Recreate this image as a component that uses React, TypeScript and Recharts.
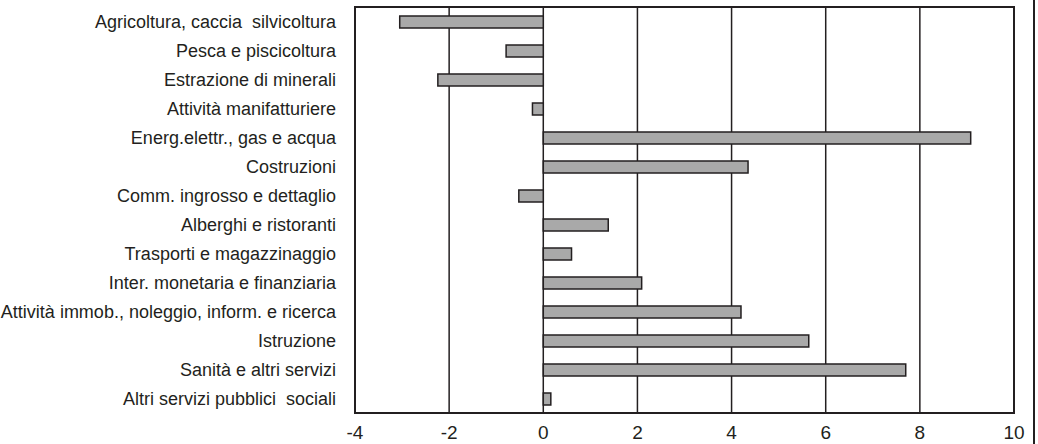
import React from 'react';
import { BarChart, Bar, XAxis, YAxis, CartesianGrid, ReferenceArea } from 'recharts';

const sectors = [
  'Agricoltura, caccia\u00a0 silvicoltura',
  'Pesca e piscicoltura',
  'Estrazione di minerali',
  'Attività manifatturiere',
  'Energ.elettr., gas e acqua',
  'Costruzioni',
  'Comm. ingrosso e dettaglio',
  'Alberghi e ristoranti',
  'Trasporti e magazzinaggio',
  'Inter. monetaria e finanziaria',
  'Attività immob., noleggio, inform. e ricerca',
  'Istruzione',
  'Sanità e altri servizi',
  'Altri servizi pubblici\u00a0 sociali',
];

const values = [-3.05, -0.79, -2.24, -0.23, 9.08, 4.35, -0.52, 1.38, 0.6, 2.09, 4.2, 5.64, 7.7, 0.16];

const xTicks = [-4, -2, 0, 2, 4, 6, 8, 10];

const data = sectors.map((name, i) => ({ name, value: values[i] }));

const FONT = '"Liberation Sans", Arial, sans-serif';
const INK = '#231f20';

const App: React.FC = () => {
  return (
    <div style={{ position: 'absolute', left: 0, top: 0, width: 1038, height: 444, background: '#fff' }}>
      <BarChart
        width={1038}
        height={444}
        data={data}
        layout="vertical"
        margin={{ top: 7, right: 24, bottom: 0, left: 0 }}
        barCategoryGap={0}
      >
        <CartesianGrid horizontal={false} stroke={INK} strokeWidth={1.5} />
        <XAxis
          type="number"
          domain={[-4, 10]}
          ticks={xTicks}
          interval={0}
          axisLine={false}
          tickLine={false}
          tickSize={0}
          tickMargin={13}
          height={31}
          tick={{ fill: INK, fontSize: 19, fontFamily: FONT }}
        />
        <YAxis
          type="category"
          dataKey="name"
          width={355}
          axisLine={false}
          tickLine={false}
          tickSize={0}
          tickMargin={19}
          interval={0}
          tick={{ fill: INK, fontSize: 18, fontFamily: FONT }}
        />
        <ReferenceArea x1={-4} x2={10} fill="none" stroke={INK} strokeWidth={2} ifOverflow="visible" />
        <Bar dataKey="value" fill="#a9a9a9" stroke={INK} strokeWidth={1.5} barSize={12} isAnimationActive={false} />
      </BarChart>
      <div style={{ position: 'absolute', left: 1033, top: 0, width: 2, height: 444, background: INK }} />
    </div>
  );
};

export default App;
